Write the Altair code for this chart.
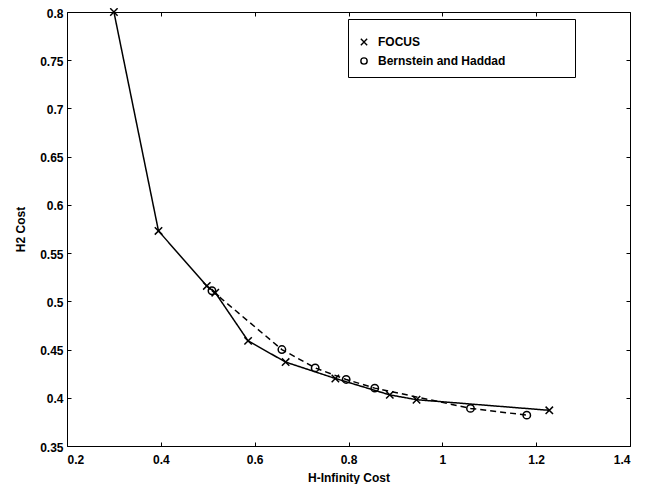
import altair as alt
import pandas as pd

# FOCUS (x markers, solid line)
focus_x = [0.300, 0.395, 0.498, 0.516, 0.586, 0.666, 0.772, 0.888, 0.945, 1.228]
focus_y = [0.800, 0.573, 0.516, 0.509, 0.459, 0.437, 0.420, 0.403, 0.398, 0.387]
# Bernstein and Haddad (o markers, dashed line)
bh_x = [0.509, 0.658, 0.729, 0.795, 0.856, 1.060, 1.180]
bh_y = [0.511, 0.450, 0.431, 0.419, 0.410, 0.389, 0.382]

series = ["FOCUS", "Bernstein and Haddad"]
x_ticks = [0.2, 0.4, 0.6, 0.8, 1.0, 1.2, 1.4]
y_ticks = [0.35, 0.4, 0.45, 0.5, 0.55, 0.6, 0.65, 0.7, 0.75, 0.8]

rows = []
for i, (a, b) in enumerate(zip(focus_x, focus_y)):
    rows.append({"series": series[0], "dash": "solid", "i": i, "hinf": a, "h2": b})
for i, (a, b) in enumerate(zip(bh_x, bh_y)):
    rows.append({"series": series[1], "dash": "dashed", "i": i, "hinf": a, "h2": b})
df = pd.DataFrame(rows)

FONT = "Liberation Sans"

xscale = alt.Scale(domain=[0.2, 1.4], nice=False, zero=False)
yscale = alt.Scale(domain=[0.35, 0.8], nice=False, zero=False)

ax_common = dict(domain=False, grid=False, tickSize=4, offset=-4, tickColor="black",
                 tickWidth=1, labelFont=FONT, labelFontSize=12, labelFontWeight="bold",
                 labelColor="black", titleFont=FONT, titleFontSize=12,
                 titleFontWeight="bold", titleColor="black", format=".2~f")

lines = alt.Chart(df).mark_line(color="black", strokeWidth=1.5, clip=False).encode(
    x=alt.X("hinf:Q", scale=xscale,
            axis=alt.Axis(orient="bottom", values=x_ticks, title="H-Infinity Cost",
                          labelPadding=8, titlePadding=7, **ax_common)),
    y=alt.Y("h2:Q", scale=yscale,
            axis=alt.Axis(orient="left", values=y_ticks, title="H2 Cost",
                          labelPadding=4, titlePadding=12, labelOffset=1, **ax_common)),
    strokeDash=alt.StrokeDash("dash:N", scale=alt.Scale(domain=["solid", "dashed"],
                                                         range=[[1, 0], [6, 4]]),
                              legend=None),
    detail="series:N",
    order="i:Q",
)

# the legend box is widened by a blank (white) spacer title
spacer = "M" * 62

pts = alt.Chart(df).mark_point(filled=False, color="black", strokeWidth=1.5, size=55, opacity=1,
                               clip=False).encode(
    x=alt.X("hinf:Q", scale=xscale,
            axis=alt.Axis(orient="top", values=x_ticks, title=None, labels=False, **ax_common)),
    y=alt.Y("h2:Q", scale=yscale,
            axis=alt.Axis(orient="right", values=y_ticks, title=None, labels=False, **ax_common)),
    shape=alt.Shape("series:N", sort=series,
                    scale=alt.Scale(domain=series, range=["M-1,-1L1,1M-1,1L1,-1", "circle"]),
                    legend=alt.Legend(orient="none", legendX=281, legendY=7, title=spacer,
                                      titleFont=FONT, titleFontSize=4, titleFontWeight="normal",
                                      titleColor="white", titleLimit=600, titlePadding=3,
                                      padding=10,
                                      strokeColor="black", fillColor="white",
                                      symbolStrokeColor="black", symbolFillColor="transparent",
                                      symbolStrokeWidth=1.4, symbolSize=40,
                                      labelFont=FONT, labelFontSize=12, labelFontWeight="bold",
                                      labelColor="black", labelOffset=8, rowPadding=7,
                                      labelLimit=400)),
)

chart = alt.layer(lines, pts).resolve_axis(x="independent", y="independent").properties(
    width=563, height=434,
    autosize=alt.AutoSizeParams(type="none"),
    padding={"left": 59, "top": 4, "right": 15, "bottom": 38},
    background="white",
).configure_view(stroke="black", strokeWidth=1)

chart.save("out.html", embed_options={"renderer": "svg", "actions": False})
